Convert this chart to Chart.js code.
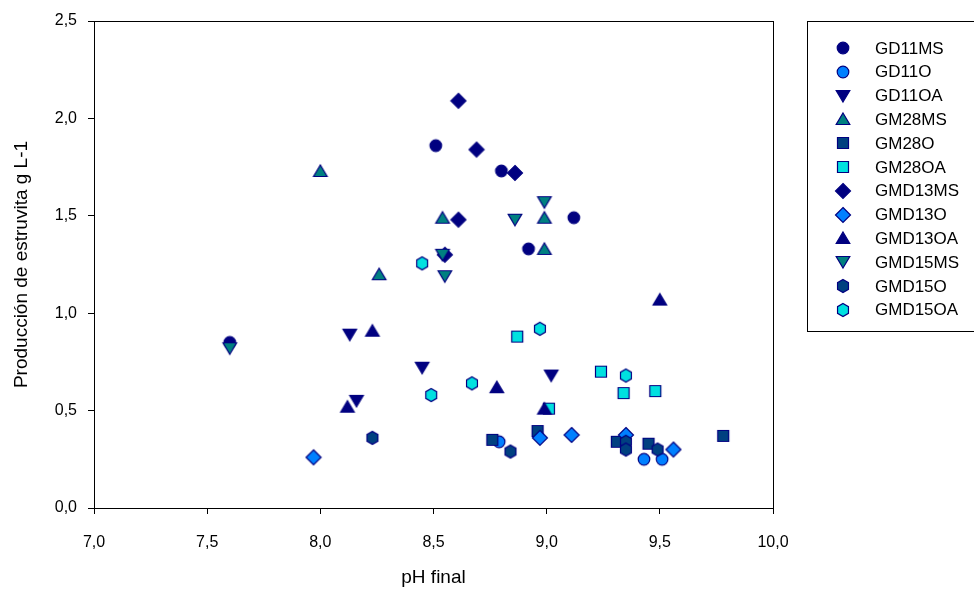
<!DOCTYPE html>
<html lang="es">
<head>
<meta charset="UTF-8">
<title>Producción de estruvita frente a pH final</title>
<script src="https://cdn.jsdelivr.net/npm/chart.js"></script>
<style>
  body { margin: 0; background: #fff; }
  #wrap { width: 974px; height: 590px; }
</style>
</head>
<body>
<div id="wrap"><canvas id="grafico" width="974" height="590"></canvas></div>
<script>
// Series: pH final (x) y producción de estruvita en g L-1 (y)
const series = ['GD11MS', 'GD11O', 'GD11OA', 'GM28MS', 'GM28O', 'GM28OA',
                'GMD13MS', 'GMD13O', 'GMD13OA', 'GMD15MS', 'GMD15O', 'GMD15OA'];

const phGD11MS   = [7.60, 8.51, 8.80, 8.92, 9.12];
const prodGD11MS = [0.85, 1.86, 1.73, 1.33, 1.49];

const phGD11O    = [8.79, 9.43, 9.51];
const prodGD11O  = [0.34, 0.25, 0.25];

const phGD11OA   = [8.13, 8.16, 8.45, 9.02];
const prodGD11OA = [0.89, 0.55, 0.72, 0.68];

const phGM28MS   = [8.00, 8.26, 8.54, 8.99, 8.99];
const prodGM28MS = [1.73, 1.20, 1.49, 1.49, 1.33];

const phGM28O    = [8.76, 8.96, 9.31, 9.45, 9.78];
const prodGM28O  = [0.35, 0.395, 0.34, 0.33, 0.37];

const phGM28OA   = [8.87, 9.01, 9.24, 9.34, 9.48];
const prodGM28OA = [0.88, 0.51, 0.70, 0.59, 0.60];

const phGMD13MS   = [8.61, 8.69, 8.86, 8.61, 8.55];
const prodGMD13MS = [2.09, 1.84, 1.72, 1.48, 1.30];

const phGMD13O   = [7.97, 8.97, 9.11, 9.35, 9.56];
const prodGMD13O = [0.26, 0.36, 0.375, 0.375, 0.30];

const phGMD13OA   = [8.12, 8.23, 8.78, 8.99, 9.50];
const prodGMD13OA = [0.52, 0.91, 0.62, 0.51, 1.07];

const phGMD15MS   = [7.60, 8.54, 8.55, 8.86, 8.99];
const prodGMD15MS = [0.82, 1.30, 1.19, 1.48, 1.57];

const phGMD15O   = [8.23, 8.84, 9.35, 9.35, 9.49];
const prodGMD15O = [0.36, 0.29, 0.34, 0.30, 0.30];

const phGMD15OA   = [8.45, 8.49, 8.67, 8.97, 9.35];
const prodGMD15OA = [1.256, 0.58, 0.64, 0.92, 0.68];

const valoresX = [phGD11MS, phGD11O, phGD11OA, phGM28MS, phGM28O, phGM28OA,
                  phGMD13MS, phGMD13O, phGMD13OA, phGMD15MS, phGMD15O, phGMD15OA];
const valoresY = [prodGD11MS, prodGD11O, prodGD11OA, prodGM28MS, prodGM28O, prodGM28OA,
                  prodGMD13MS, prodGMD13O, prodGMD13OA, prodGMD15MS, prodGMD15O, prodGMD15OA];

const ticksX = [7.0, 7.5, 8.0, 8.5, 9.0, 9.5, 10.0];
const etiquetasX = ['7,0', '7,5', '8,0', '8,5', '9,0', '9,5', '10,0'];
const ticksY = [0.0, 0.5, 1.0, 1.5, 2.0, 2.5];
const etiquetasY = ['0,0', '0,5', '1,0', '1,5', '2,0', '2,5'];

// Forma y relleno de cada serie
const formas = ['circulo', 'circulo', 'triAbajo', 'triArriba', 'cuadrado', 'cuadrado',
                'rombo', 'rombo', 'triArriba', 'triAbajo', 'hexagono', 'hexagono'];
const rellenos = ['#000080', '#0080ff', '#000080', '#008080', '#004080', '#00e0e0',
                  '#000080', '#0080ff', '#000080', '#008080', '#004080', '#00e0e0'];

const FUENTE = "'Liberation Sans', Arial, sans-serif";

function marcador(forma, relleno) {
  const c = document.createElement('canvas');
  c.width = 18; c.height = 18;
  const g = c.getContext('2d');
  const m = 9;
  g.beginPath();
  if (forma === 'circulo') {
    g.arc(m, m, 5.8, 0, Math.PI * 2);
  } else if (forma === 'triArriba') {
    g.moveTo(m, m - 6); g.lineTo(m + 6.8, m + 5.5); g.lineTo(m - 6.8, m + 5.5);
  } else if (forma === 'triAbajo') {
    g.moveTo(m, m + 6); g.lineTo(m + 6.8, m - 5.5); g.lineTo(m - 6.8, m - 5.5);
  } else if (forma === 'cuadrado') {
    g.rect(m - 5.5, m - 5.5, 11, 11);
  } else if (forma === 'rombo') {
    g.moveTo(m, m - 7.5); g.lineTo(m + 7.5, m); g.lineTo(m, m + 7.5); g.lineTo(m - 7.5, m);
  } else if (forma === 'hexagono') {
    for (let k = 0; k < 6; k++) {
      const a = -Math.PI / 2 + k * Math.PI / 3;
      const px = m + 6.3 * Math.cos(a), py = m + 6.6 * Math.sin(a);
      if (k === 0) g.moveTo(px, py); else g.lineTo(px, py);
    }
  }
  g.closePath();
  g.fillStyle = relleno;
  g.fill();
  g.lineWidth = 1.2;
  g.strokeStyle = '#000080';
  g.stroke();
  return c;
}

const imagenes = formas.map((f, i) => marcador(f, rellenos[i]));

const datasets = series.map((nombre, i) => ({
  label: nombre,
  data: valoresX[i].map((x, j) => ({ x: x, y: valoresY[i][j] })),
  pointStyle: imagenes[i],
  pointRadius: 7,
  // las series posteriores quedan encima
  order: series.length - i
}));

// Marco del área de trazado y leyenda con recuadro
const marcoYLeyenda = {
  id: 'marcoYLeyenda',
  afterDraw(chart) {
    const { ctx, chartArea: a } = chart;
    ctx.save();
    ctx.strokeStyle = '#000';
    ctx.lineWidth = 1;
    ctx.strokeRect(Math.floor(a.left) + 0.5, Math.floor(a.top) + 0.5,
                   Math.round(a.right - a.left), Math.round(a.bottom - a.top));

    ctx.strokeRect(807.5, 21.5, 200, 310);
    ctx.font = '17px ' + FUENTE;
    ctx.fillStyle = '#000';
    ctx.textBaseline = 'middle';
    series.forEach((nombre, i) => {
      const y = 48 + i * 23.8;
      const img = imagenes[i];
      ctx.drawImage(img, 843 - img.width / 2, Math.round(y - img.height / 2));
      ctx.fillText(nombre, 875, y + 1);
    });
    ctx.restore();
  }
};

new Chart(document.getElementById('grafico'), {
  type: 'scatter',
  data: { datasets: datasets },
  options: {
    responsive: false,
    animation: false,
    devicePixelRatio: 1,
    layout: { padding: { top: 21, right: 201, left: 0, bottom: 0 } },
    plugins: {
      legend: { display: false },
      tooltip: { enabled: false }
    },
    scales: {
      x: {
        type: 'linear',
        min: 7, max: 10,
        afterBuildTicks: s => { s.ticks = ticksX.map(v => ({ value: v })); },
        afterFit: s => { s.height = 82; },
        grid: { display: true, drawOnChartArea: false, drawTicks: true, tickLength: 6, color: '#000' },
        border: { display: true, color: '#000', width: 1 },
        ticks: {
          color: '#000', padding: 19, maxRotation: 0,
          font: { family: FUENTE, size: 16 },
          callback: (v, i) => etiquetasX[i]
        },
        title: {
          display: true, text: 'pH final', color: '#000',
          font: { family: FUENTE, size: 19 }, padding: { top: 0, bottom: 1 }
        }
      },
      y: {
        type: 'linear',
        min: 0, max: 2.5,
        afterBuildTicks: s => { s.ticks = ticksY.map(v => ({ value: v })); },
        afterFit: s => { s.width = 94; },
        grid: { display: true, drawOnChartArea: false, drawTicks: true, tickLength: 6, color: '#000' },
        border: { display: true, color: '#000', width: 1 },
        ticks: {
          color: '#000', padding: 11,
          font: { family: FUENTE, size: 16 },
          callback: (v, i) => etiquetasY[i]
        },
        title: {
          display: true, text: 'Producción de estruvita g L-1', color: '#000',
          font: { family: FUENTE, size: 19 }, padding: { top: 10, bottom: 0 }
        }
      }
    }
  },
  plugins: [marcoYLeyenda]
});
</script>
</body>
</html>
